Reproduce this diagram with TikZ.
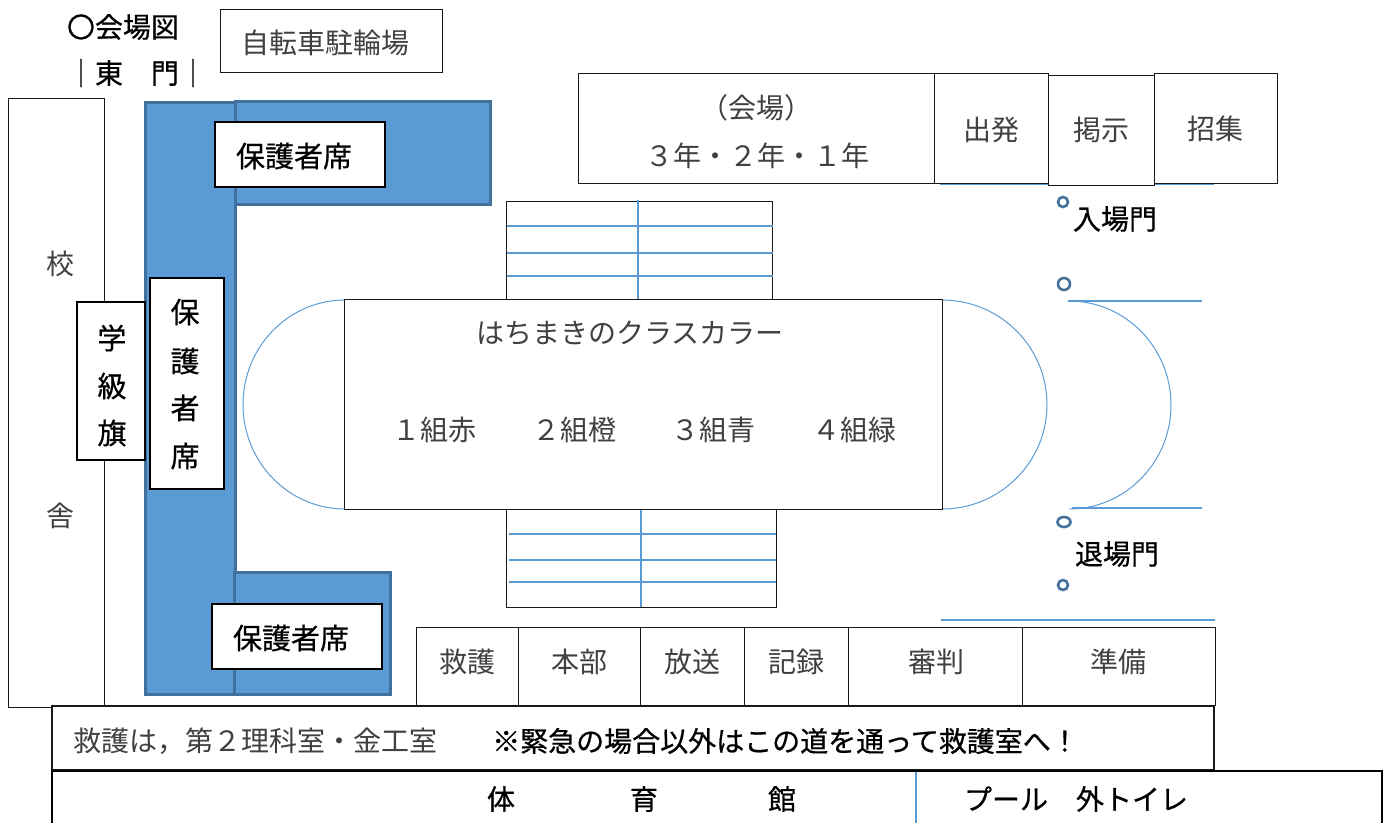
\documentclass[tikz,border=0pt]{standalone}
\usepackage{fontspec}
\setmainfont{Noto Sans CJK JP}
\newfontfamily\futofont[FakeBold=0.6]{Noto Sans CJK JP}
\usepackage{tikz}
\usepackage{xcolor}
\definecolor{aoseki}{HTML}{5B9BD5}
\definecolor{aowaku}{HTML}{41719C}
\tikzset{
    hako/.style={draw=black!90, line width=1pt, fill=white},
    hako futo/.style={draw=black, line width=2.2pt, fill=white},
    seki/.style={draw=aowaku, line width=3pt, fill=aoseki},
    sen ao/.style={draw=aoseki, line width=1.6pt},
    kyokusen/.style={draw=aoseki, line width=1pt},
    maru/.style={draw=aowaku, line width=2.6pt},
    moji/.style={font=\fontsize{28}{28}\selectfont, text=black!75, inner sep=0pt},
    moji futo/.style={font=\futofont\fontsize{28}{28}\selectfont, text=black, inner sep=0pt},
    moji seki/.style={font=\futofont\fontsize{29}{29}\selectfont, text=black, inner sep=0pt},
}
\begin{document}
\begin{tikzpicture}[x=1pt, y=-1pt]
\useasboundingbox (0,0) rectangle (1386,823);
% Titre
\node[moji futo] (titre) at (123,27) {〇会場図};
\node[moji futo] (higashimon) at (137,73) {｜東　門｜};
\draw[hako] (220,9) rectangle (442,72);
\node[moji] (jitensha) at (325,43) {自転車駐輪場};
%校舎
\draw[hako] (8.5,98.5) rectangle (104,707);
\node[moji] (kou) at (60,264) {校};
\node[moji] (sha) at (60,516) {舎};
% 保護者席
\draw[seki] (145,102) rectangle (235,694);
\draw[seki] (235,101) rectangle (490,204);
\draw[seki] (234,572) rectangle (390,694);
\draw[hako futo] (215,122) rectangle (385,187);
\node[moji seki] (hogosha1) at (294,156) {保護者席};
\draw[hako futo] (212,604) rectangle (382,669);
\node[moji seki] (hogosha2) at (291,638) {保護者席};
\draw[hako futo] (150,278) rectangle (224,489);
\foreach \c/\y in {保/312,護/361,者/408,席/456} {\node[moji seki] (seki\y) at (185,\y) {\c};}
\draw[hako futo] (77,302) rectangle (145,460);
\foreach \c/\y in {学/338,級/386,旗/433} {\node[moji seki] (hata\y) at (112,\y) {\c};}
% Lignes bleues en haut et en bas
\draw[sen ao] (940,184.5) -- (1214,184.5);
\draw[sen ao] (941,620) -- (1215,620);
\draw[sen ao] (1068,301) -- (1202,301);
\draw[sen ao] (1072,508) -- (1202,508);
% 会場
\draw[hako] (578.5,73) rectangle (934,183);
\node[moji] (kaijou) at (756,108) {（会場）};
\node[moji] (gakunen) at (757,156) {３年・２年・１年};
\draw[hako] (934,73) rectangle (1048,183);
\node[moji] (shuppatsu) at (991,130) {出発};
\draw[hako] (1048,75) rectangle (1154,185);
\node[moji] (keiji) at (1101,130) {掲示};
\draw[hako] (1154,73) rectangle (1277,183);
\node[moji] (shoushuu) at (1215,129) {招集};
% 入場門・退場門
\draw[maru] (1063,202) circle (5pt);
\draw[maru] (1064,284) circle (6pt);
\draw[maru] (1064,522) circle[x radius=6.5pt, y radius=5pt];
\draw[maru] (1063,585) circle (5pt);
\node[moji futo] (nyuujou) at (1115,219) {入場門};
\node[moji futo] (taijou) at (1117,554) {退場門};
% トラック
\draw[kyokusen] (345,300) arc[start angle=90, end angle=270, x radius=102pt, y radius=104.5pt];
\draw[kyokusen] (942,300) arc[start angle=90, end angle=-90, x radius=105pt, y radius=104.5pt];
\draw[kyokusen] (1069,301) arc[start angle=90, end angle=-90, x radius=102pt, y radius=104pt];
% スタンド
\draw[hako] (506,201) rectangle (772,299);
\foreach \y in {226,253,276} {\draw[sen ao] (507,\y) -- (773,\y);}
\draw[sen ao] (638,200) -- (638,299);
\draw[hako] (506,509) rectangle (776,607);
\foreach \y in {534,560,582} {\draw[sen ao] (509,\y) -- (776,\y);}
\draw[sen ao] (641,509) -- (641,607);
% はちまき
\draw[hako] (344.5,299) rectangle (942,509);
\node[moji] (hachimaki) at (630,333) {はちまきのクラスカラー};
\foreach \t/\x in {１組赤/434,２組橙/574,３組青/713,４組緑/854} {\node[moji] (kumi\x) at (\x,430) {\t};}
% テント
\foreach \a/\b/\t/\x in {416/518/救護/467,518/640/本部/579,640/744/放送/692,744/848/記録/796,848/1022/審判/936,1022/1215/準備/1118} {
  \draw[hako] (\a,627) rectangle (\b,705);
  \node[moji] (tent\x) at (\x,662) {\t};
}
% 救護
\draw[hako, line width=1.5pt] (52,706) rectangle (1214,770);
\node[moji, anchor=west] (kyuugo) at (73,741) {救護は，第２理科室・金工室};
\node[moji futo, anchor=west] (kinkyuu) at (492,741) {※緊急の場合以外はこの道を通って救護室へ！};
% 体育館
\draw[black, line width=2.8pt] (52,823) -- (52,771) -- (1382,771) -- (1382,823);
\draw[sen ao] (916,772) -- (916,823);
\foreach \c/\x in {体/501,育/644,館/782} {\node[moji futo] (taiiku\x) at (\x,799) {\c};}
\node[moji futo] (pool) at (1076,799) {プール　外トイレ};
\end{tikzpicture}
\end{document}
